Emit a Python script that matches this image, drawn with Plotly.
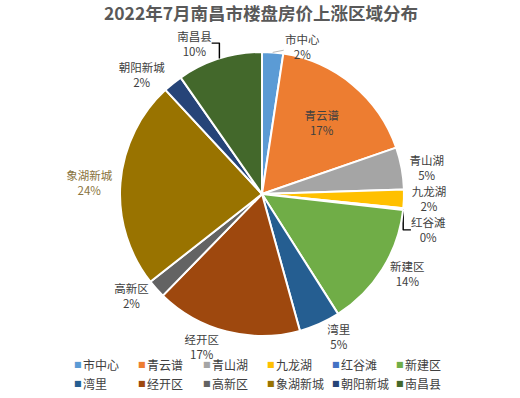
import math
import plotly.graph_objects as go

categories = ["市中心", "青云谱", "青山湖", "九龙湖", "红谷滩", "新建区",
              "湾里", "经开区", "高新区", "象湖新城", "朝阳新城", "南昌县"]
shares = [2.4, 17.3, 4.8, 2.1, 0.2, 14.2, 4.7, 16.6, 2.1, 23.7, 2.2, 9.7]
colors = ["#5B9BD5", "#ED7D31", "#A5A5A5", "#FFC000", "#4472C4", "#70AD47",
          "#255E91", "#9E480E", "#636363", "#997300", "#264478", "#43682B"]
# first slice's label is drawn as a callout with a leader line (see below)
text_positions = ["none", "inside", "outside", "outside", "outside", "outside",
                  "outside", "outside", "outside", "outside", "outside", "outside"]
text_colors = ["#404040", "#404040", "#404040", "#404040", "#404040", "#404040",
               "#404040", "#404040", "#404040", "#8a7440", "#404040", "#404040"]

W, H = 520, 398


def px(X):
    return X / W


def py(Y):
    return 1 - Y / H


CX, CY, R = 262, 194, 142

fig = go.Figure(go.Pie(
    labels=categories,
    values=shares,
    sort=False,
    direction="clockwise",
    rotation=0,
    marker=dict(colors=colors, line=dict(color="white", width=2)),
    texttemplate="%{label}<br>%{percent:.0%}",
    textposition=text_positions,
    insidetextorientation="horizontal",
    textfont=dict(size=11.5, color=text_colors, family="Noto Sans CJK SC"),
    domain=dict(x=[px(CX - R), px(CX + R)],
                y=[py(CY + R), py(CY - R)]),
    hoverinfo="label+percent",
    showlegend=False,
))

annotations = []

# callout label for the first slice, anchored at its mid-angle on the rim
total = sum(shares)
mid = (shares[0] / 2) / total * 2 * math.pi
ex, ey = CX + R * math.sin(mid), CY - R * math.cos(mid)
annotations.append(dict(
    x=px(ex), y=py(ey), xref="paper", yref="paper",
    text=f"{categories[0]}<br>{round(shares[0] / total * 100)}%",
    showarrow=True, arrowhead=0, arrowwidth=0.8, arrowcolor="#a6a6a6",
    standoff=0, ax=30, ay=-6,
    font=dict(size=11.5, color=text_colors[0], family="Noto Sans CJK SC")))

# legend drawn as annotations, 6 per row
for i, (name, col) in enumerate(zip(categories, colors)):
    row, c = divmod(i, 6)
    x0 = 72 + 64.4 * c
    y0 = 364 + 19 * row
    annotations.append(dict(
        x=px(x0), y=py(y0), xref="paper", yref="paper",
        xanchor="left", yanchor="middle", showarrow=False,
        text="■", font=dict(size=8, color=col, family="DejaVu Sans")))
    annotations.append(dict(
        x=px(x0 + 9), y=py(y0), xref="paper", yref="paper",
        xanchor="left", yanchor="middle", showarrow=False,
        text=name, font=dict(size=12, color="#404040", family="Noto Sans CJK SC")))

fig.update_layout(
    width=W, height=H,
    margin=dict(l=0, r=0, t=0, b=0),
    paper_bgcolor="white",
    plot_bgcolor="white",
    font=dict(family="Noto Sans CJK SC", color="#404040"),
    title=dict(text="<b>2022年7月南昌市楼盘房价上涨区域分布</b>",
               x=px(261), xanchor="center", y=py(14), yanchor="middle",
               font=dict(size=17.5, color="#595959", family="Noto Sans CJK SC")),
    annotations=annotations,
    showlegend=False,
)

fig.write_html(
    "out.html",
    config={"displayModeBar": False},
    post_script="document.body.style.margin='0';document.body.style.overflow='hidden';",
)
